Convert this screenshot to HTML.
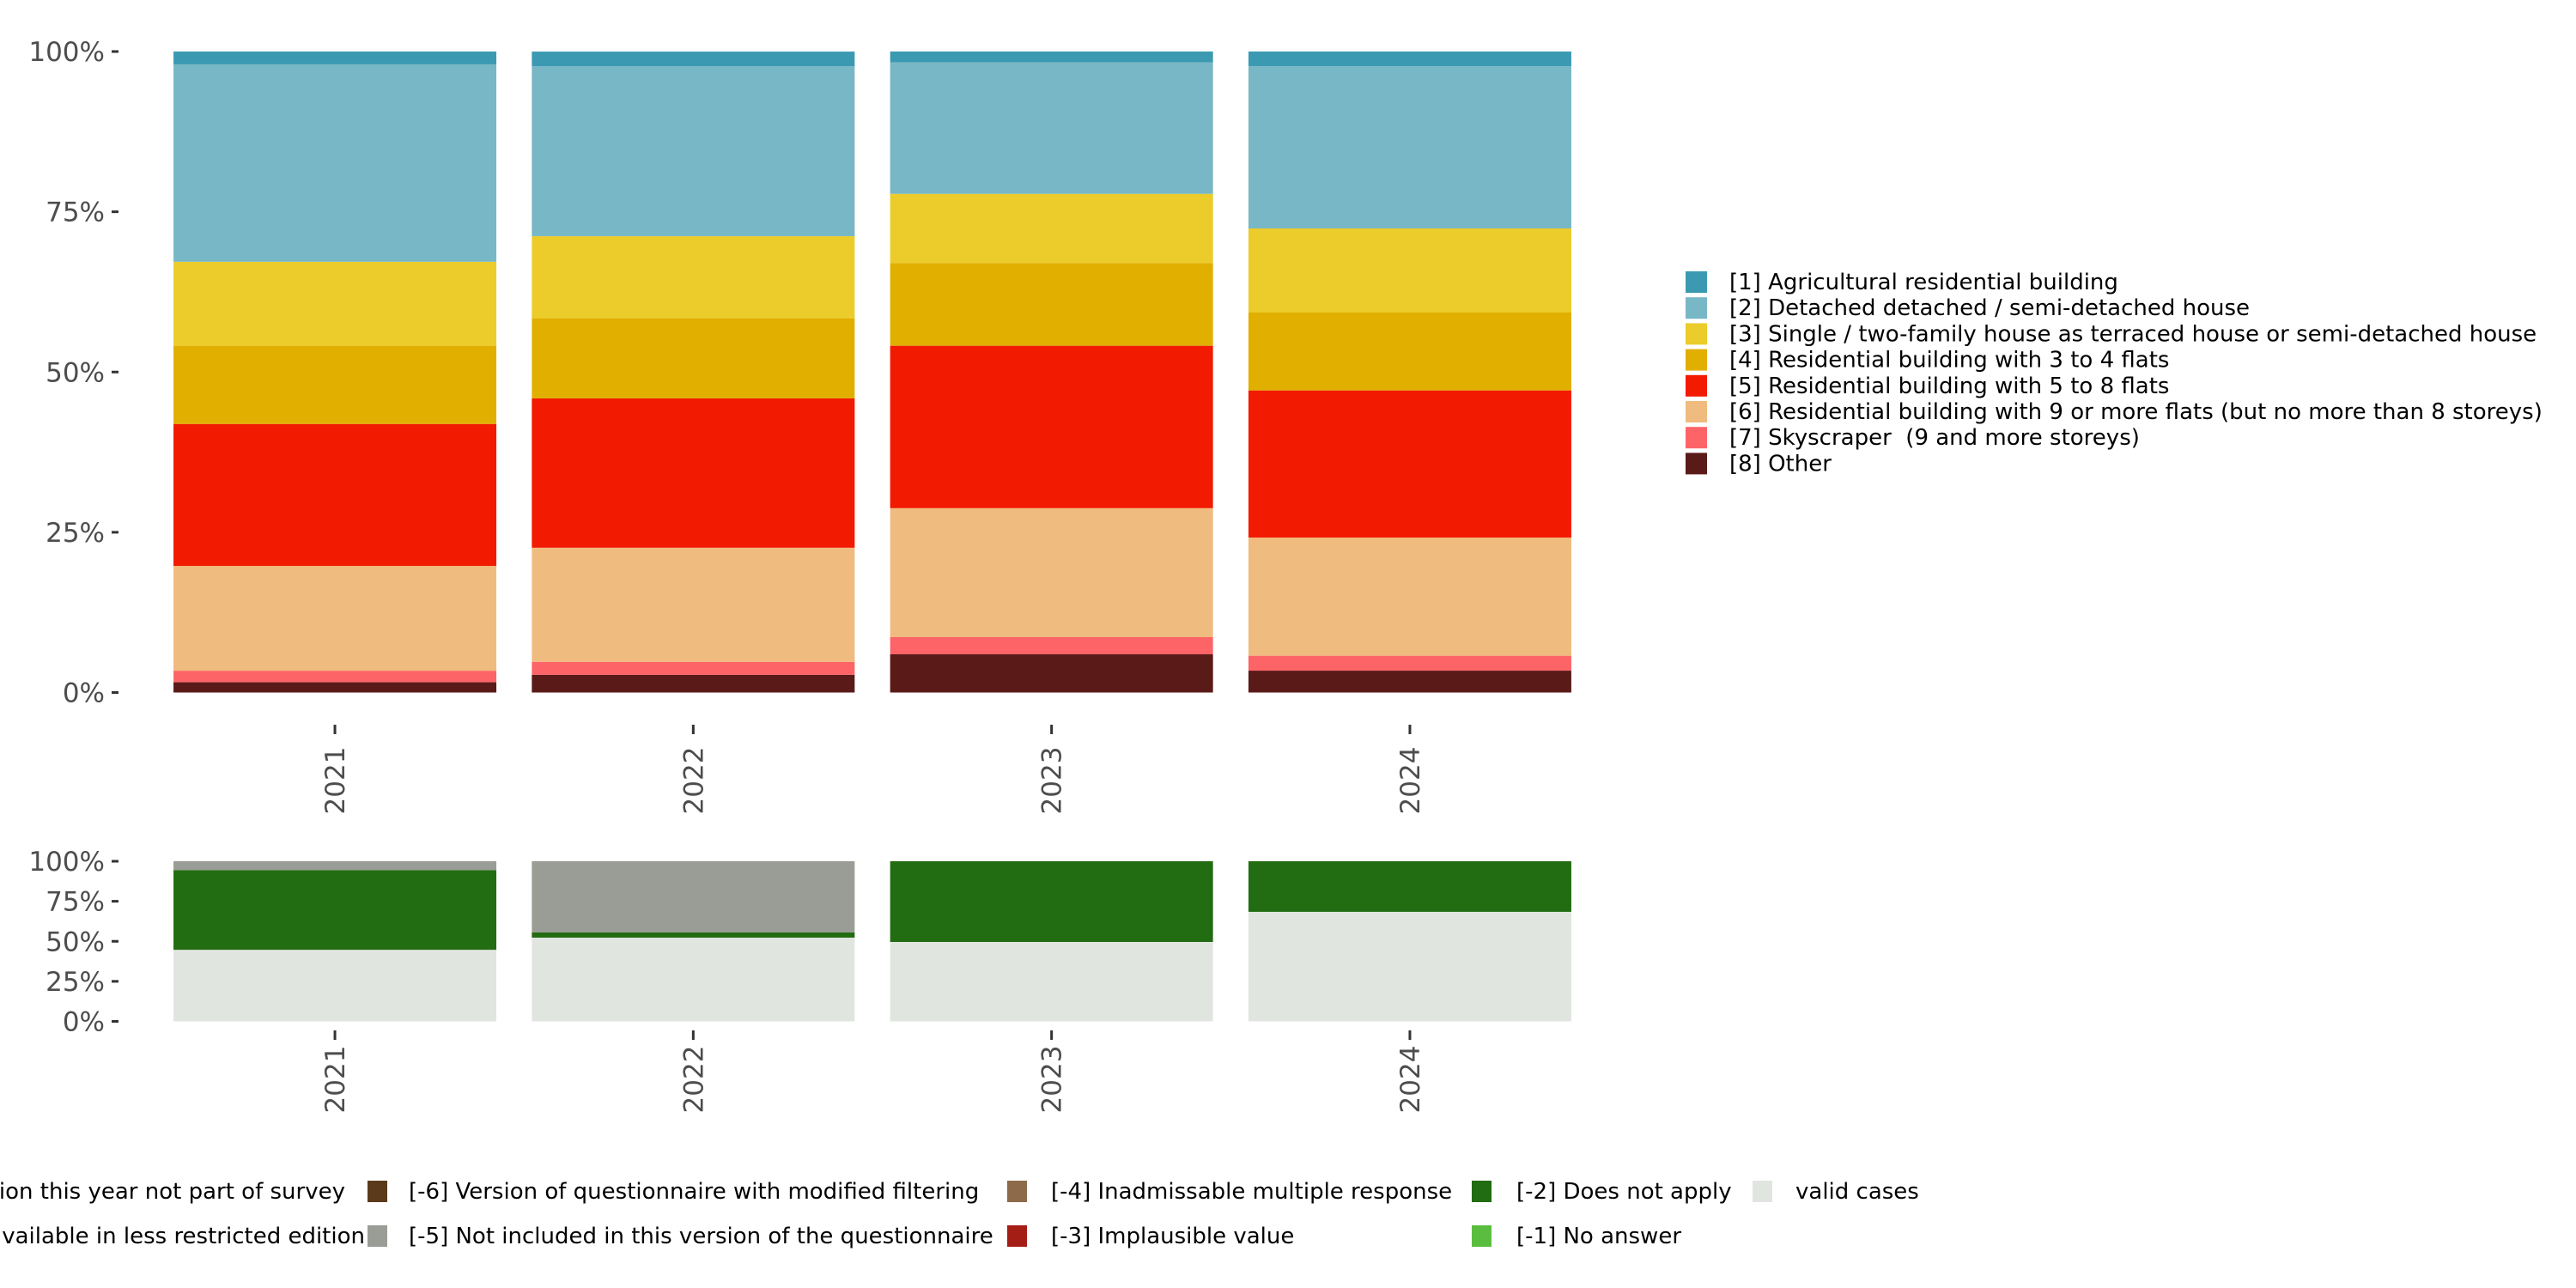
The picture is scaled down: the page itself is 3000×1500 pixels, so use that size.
<!DOCTYPE html>
<html><head><meta charset="utf-8"><style>
html,body{margin:0;padding:0;background:#fff;}
svg{display:block;font-family:"DejaVu Sans","Liberation Sans",sans-serif;}
text{white-space:pre;}
</style></head><body>
<svg id="chart" width="3000" height="1500" viewBox="0 0 3000 1500" xmlns="http://www.w3.org/2000/svg">
<rect width="3000" height="1500" fill="#fff"/>
<g id="top"></g>
<g id="bottom"></g>
<g id="legend-right"></g>
<g id="legend-bottom"></g>
</svg>
<script>
const years = ["2021","2022","2023","2024"];
const topCats = ["[8] Other","[7] Skyscraper  (9 and more storeys)","[6] Residential building with 9 or more flats (but no more than 8 storeys)","[5] Residential building with 5 to 8 flats","[4] Residential building with 3 to 4 flats","[3] Single / two-family house as terraced house or semi-detached house","[2] Detached detached / semi-detached house","[1] Agricultural residential building"];
const topColors = ["#5a1a18","#fd6467","#f0bb7e","#f21a00","#e1af00","#ebcc2a","#78b7c5","#3b9ab2"];
const v2021 = [1.6,1.8,16.35,22.15,12.2,13.1,30.8,2.0];
const v2022 = [2.76,2.03,17.8,23.3,12.5,12.8,26.5,2.3];
const v2023 = [5.96,2.68,20.12,25.34,12.9,10.8,20.5,1.7];
const v2024 = [3.41,2.33,18.44,22.95,12.2,13.07,25.3,2.3];
const topValues = [v2021,v2022,v2023,v2024];
const botCats = ["valid cases","[-2] Does not apply","[-5] Not included in this version of the questionnaire"];
const botColors = ["#e1e5e0","#226c12","#9a9d95"];
const b2021 = [44.7,49.8,5.5];
const b2022 = [52.3,3.2,44.5];
const b2023 = [49.6,50.4,0];
const b2024 = [68.4,31.6,0];
const botValues = [b2021,b2022,b2023,b2024];
const yTicks = [0,25,50,75,100];
const yTickLabels = ["0%","25%","50%","75%","100%"];

const NS="http://www.w3.org/2000/svg";
function mk(tag,attrs,parent){const e=document.createElementNS(NS,tag);for(const k in attrs)e.setAttribute(k,attrs[k]);parent.appendChild(e);return e;}
const step=417.3, bw=376, x0=181.4;
function xBand(i){return x0+i*step+(step-bw)/2;}

function panel(g,y0,y100,values,colors,tickY,labelY,prefix){
  const ys=v=>y0+(y100-y0)*v/100;
  values.forEach((vals,i)=>{
    let cum=0;
    vals.forEach((v,j)=>{
      if(v<=0){return;}
      const r=mk('rect',{x:xBand(i),y:ys(cum+v),width:bw,height:ys(cum)-ys(cum+v),fill:colors[j]},g);
      
      
      cum+=v;
    });
    const cx=xBand(i)+bw/2;
    const t=mk('line',{x1:cx,x2:cx,y1:tickY,y2:tickY+11,stroke:'#333','stroke-width':3},g);
    
    
    const lb=mk('text',{x:cx+11,y:labelY,'font-size':31,fill:'#4d4d4d','text-anchor':'middle',transform:`rotate(-90 ${cx+11} ${labelY})`},g);
    lb.textContent=years[i];
    
    
  });
  yTicks.forEach((t,k)=>{
    const y=ys(t);
    const tl=mk('line',{x1:130,x2:138,y1:y,y2:y,stroke:'#333','stroke-width':3},g);
    
    
    const tx=mk('text',{x:122,y:y+11,'font-size':31,fill:'#4d4d4d','text-anchor':'end'},g);
    tx.textContent=yTickLabels[k];
    
    
  });
}
panel(document.getElementById('top'),806.5,60,topValues,topColors,844,909,'top');
panel(document.getElementById('bottom'),1189.5,1003,botValues,botColors,1200,1257,'bottom');

const lr=document.getElementById('legend-right');
for(let k=0;k<8;k++){
  const idx=7-k, y=316+k*30.2;
  const r=mk('rect',{x:1963,y:y,width:25,height:25,fill:topColors[idx]},lr);
  
  
  const t=mk('text',{x:2014,y:y+21,'font-size':26,fill:'#000'},lr);
  t.textContent=topCats[idx];
  
  
}
const lb=document.getElementById('legend-bottom');
const bItems=[
 {key:428,tx:476,row:0,c:"#5b3a1c",t:"[-6] Version of questionnaire with modified filtering"},
 {key:428,tx:476,row:1,c:"#9a9d95",t:"[-5] Not included in this version of the questionnaire"},
 {key:1173,tx:1224,row:0,c:"#8c6a4a",t:"[-4] Inadmissable multiple response"},
 {key:1173,tx:1224,row:1,c:"#a51e16",t:"[-3] Implausible value"},
 {key:1714,tx:1766,row:0,c:"#226c12",t:"[-2] Does not apply"},
 {key:1714,tx:1766,row:1,c:"#5bbd3f",t:"[-1] No answer"},
 {key:2041,tx:2091,row:0,c:"#e1e5e0",t:"valid cases"}
];
bItems.forEach(it=>{
  const y=it.row?1427:1375;
  const r=mk('rect',{x:it.key,y:y,width:23,height:25,fill:it.c},lb);
  
  
  const t=mk('text',{x:it.tx,y:y+21,'font-size':26,fill:'#000'},lb);
  t.textContent=it.t;
  
  
});
const c1=mk('text',{x:402,y:1396,'font-size':26,fill:'#000','text-anchor':'end'},lb);
c1.textContent="[-8] Question this year not part of survey";


const c2=mk('text',{x:425,y:1448,'font-size':26,fill:'#000','text-anchor':'end'},lb);
c2.textContent="[-7] Only available in less restricted edition";


</script>
</body></html>
